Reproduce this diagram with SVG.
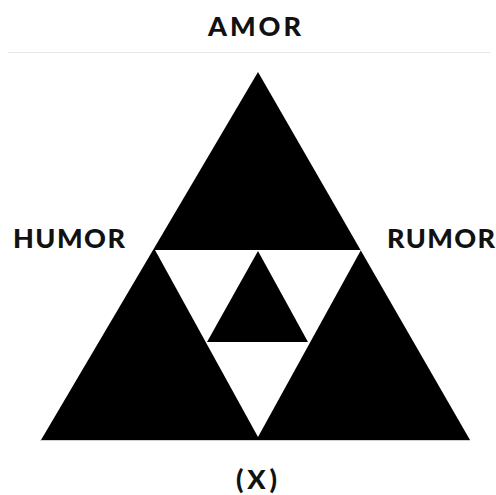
<svg xmlns="http://www.w3.org/2000/svg" width="496" height="495" viewBox="0 0 496 495">
<style>
.lbl{font-family:"Lato","Liberation Sans",sans-serif;font-weight:900;font-size:27px;fill:#111}
.blk{fill:#000}
.wht{fill:#fff}
</style>
<rect width="496" height="495" fill="#fff"/>
<line x1="8" y1="52.5" x2="490" y2="52.5" stroke="#e6e6e6" stroke-width="1"/>
<line x1="40" y1="440.5" x2="470" y2="440.5" stroke="#d0d0d0" stroke-width="1"/>
<g id="triangle">
<polygon class="blk" points="258,72 41,440 470,440"/>
<polygon class="wht" points="155,250 361,250 258,437"/>
<polygon class="blk" points="258,251 207,342 308,342"/>
</g>
<g id="amor"><text class="lbl" x="208" y="36" textLength="93" lengthAdjust="spacing">AMOR</text></g>
<g id="humor"><text class="lbl" x="13" y="248" textLength="112" lengthAdjust="spacing">HUMOR</text></g>
<g id="rumor"><text class="lbl" x="387" y="248" textLength="108" lengthAdjust="spacing">RUMOR</text></g>
<g id="x"><text class="lbl" x="236" y="489" textLength="41" lengthAdjust="spacing">(X)</text></g>
<g id="connectors"/>
</svg>
